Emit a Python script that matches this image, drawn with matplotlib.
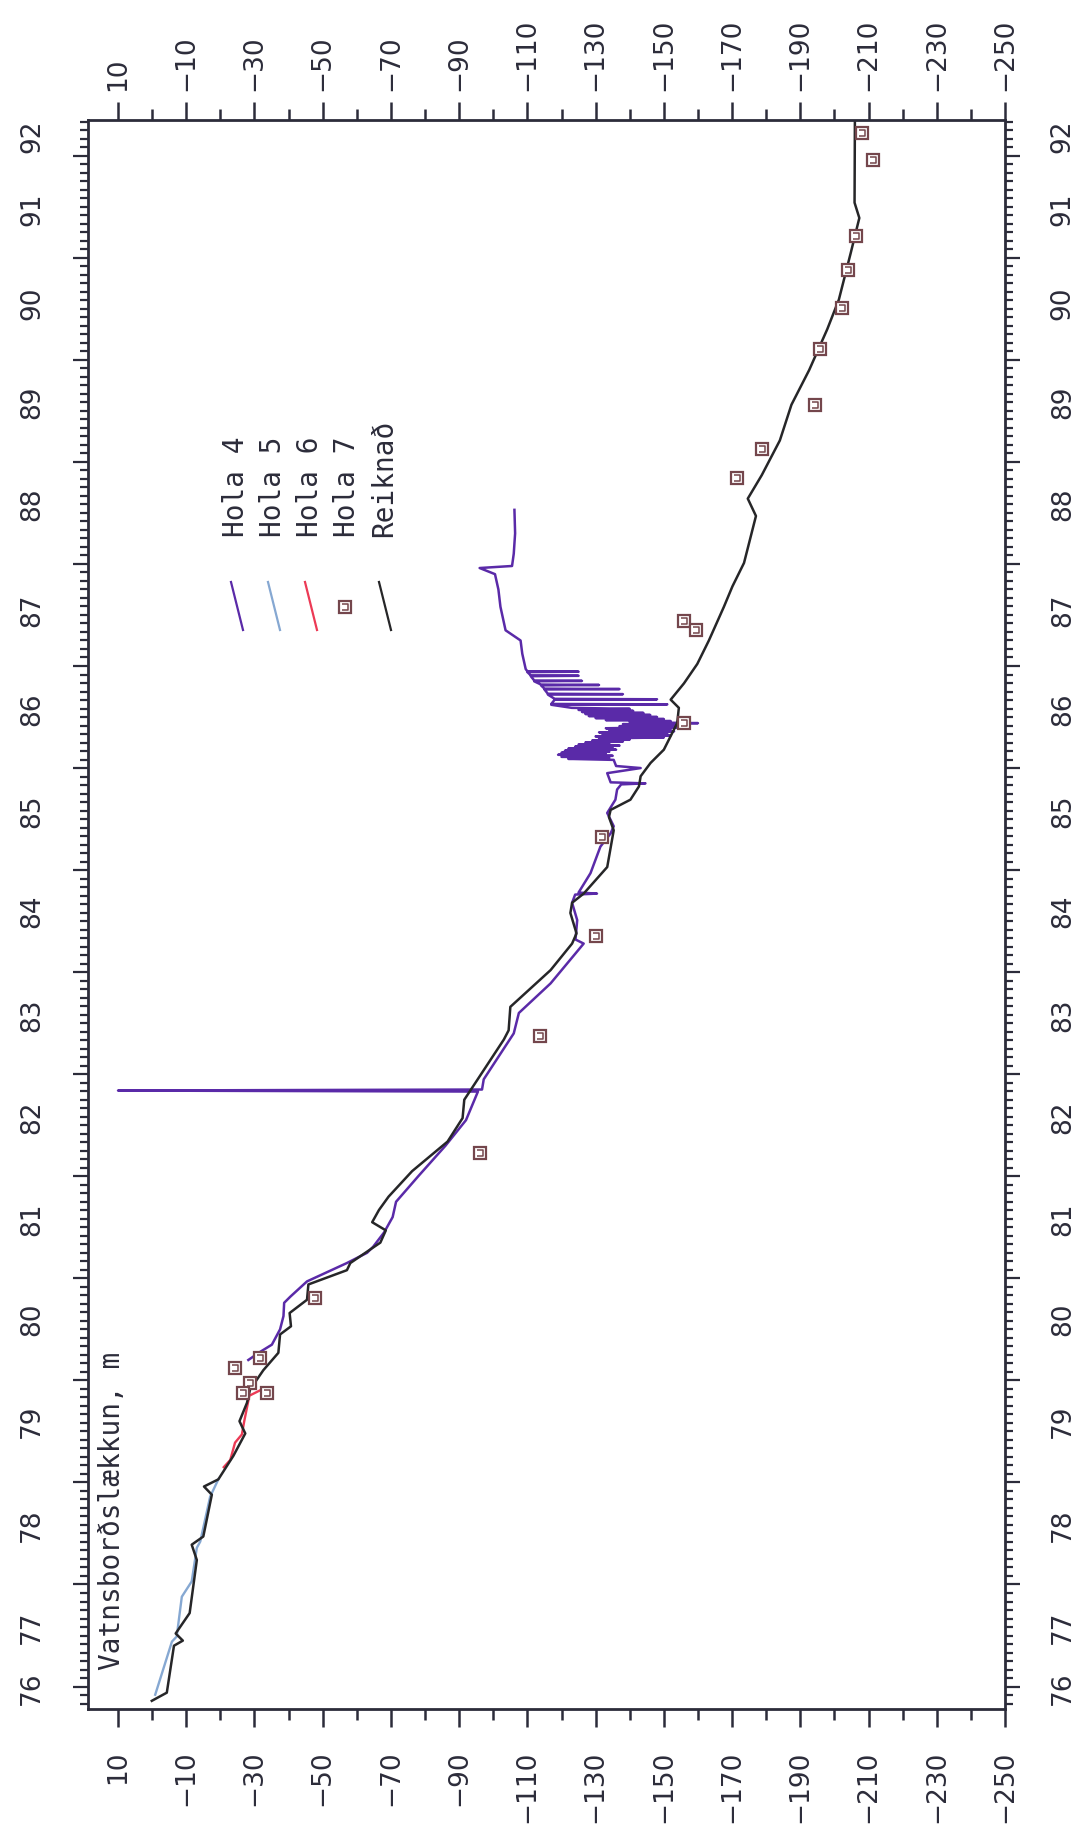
import matplotlib.pyplot as plt
from matplotlib.ticker import MultipleLocator, FixedLocator, NullFormatter
from matplotlib.transforms import blended_transform_factory
from matplotlib.lines import Line2D

# Reiknað (computed) water level, m
reikn_year = [1976.86, 1976.94, 1977.40, 1977.45, 1977.52, 1977.72, 1978.24, 1978.39, 1978.47,
              1978.88, 1978.96, 1979.03, 1979.26, 1979.48, 1979.60, 1979.78, 1979.91, 1980.10,
              1980.27, 1980.45, 1980.53, 1980.66, 1980.79, 1980.94, 1981.08, 1981.15, 1981.35,
              1981.47, 1981.55, 1981.67, 1981.80, 1982.05, 1982.34, 1982.57, 1982.75, 1983.34,
              1983.43, 1983.66, 1984.02, 1984.28, 1984.38, 1984.58, 1984.68, 1984.77, 1985.03,
              1985.39, 1985.52, 1985.59, 1985.69, 1985.82, 1985.92, 1986.05, 1986.18, 1986.44,
              1986.59, 1986.67, 1986.83, 1987.02, 1987.25, 1987.58, 1987.78, 1988.01, 1988.47,
              1988.64, 1988.87, 1989.21, 1989.56, 1989.90, 1990.30, 1990.59, 1991.05, 1991.39,
              1991.54, 1992.35]
reikn_level = [0.1, -4.3, -6.4, -9.0, -6.9, -11.0, -13.1, -11.6, -15.0,
               -17.5, -15.2, -19.4, -23.8, -27.3, -25.6, -27.8, -28.7, -32.6,
               -37.0, -37.5, -40.7, -40.3, -45.4, -45.8, -57.1, -58.1, -66.9,
               -68.5, -64.5, -66.5, -69.3, -76.2, -86.6, -91.0, -91.5, -103.1,
               -104.5, -105.0, -116.8, -123.1, -124.4, -122.6, -123.1, -126.5, -133.4,
               -135.3, -133.9, -134.4, -140.2, -142.7, -143.2, -146.1, -150.0, -153.9,
               -154.4, -152.0, -155.9, -159.8, -163.2, -167.6, -170.1, -173.5, -177.0,
               -174.6, -178.7, -184.0, -187.4, -192.6, -197.9, -201.3, -204.8, -207.3,
               -205.9, -206.0]

# Hola 4, in four stretches: trend up to 1986, dense fluctuations, single spikes, last part
h4_year_a = [1980.20, 1980.28, 1980.35, 1980.50, 1980.63, 1980.76, 1980.82, 1980.97, 1981.15,
             1981.25, 1981.31, 1981.45, 1981.60, 1981.75, 1982.00, 1982.30, 1982.55, 1982.83,
             1982.84, 1982.85, 1982.95, 1983.40, 1983.60, 1983.89, 1984.28, 1984.32, 1984.51,
             1984.68, 1984.76, 1984.77, 1984.78, 1984.97, 1985.23, 1985.36, 1985.43, 1985.56,
             1985.69, 1985.79, 1985.84, 1985.85, 1985.86, 1985.95, 1986.00, 1986.02]
h4_level_a = [-28.2, -31.7, -35.1, -37.5, -38.5, -38.7, -40.5, -45.4, -57.1,
              -63.0, -64.8, -68.0, -70.5, -71.5, -78.0, -86.0, -92.0, -95.5,
              10.0, -96.7, -97.2, -106.0, -107.5, -116.8, -126.5, -124.1, -124.6,
              -123.1, -124.0, -130.4, -125.0, -128.5, -131.4, -134.4, -135.3, -133.4,
              -135.8, -136.3, -137.5, -144.6, -134.4, -133.4, -143.2, -136.0]
h4_year_b = [1986.08, 1986.09, 1986.10, 1986.11, 1986.12, 1986.13, 1986.14, 1986.15, 1986.16,
             1986.17, 1986.18, 1986.19, 1986.20, 1986.21, 1986.22, 1986.23, 1986.24, 1986.25,
             1986.26, 1986.27, 1986.28, 1986.29, 1986.30, 1986.31, 1986.32, 1986.33, 1986.34,
             1986.35, 1986.36, 1986.37, 1986.38, 1986.39, 1986.40, 1986.41, 1986.42, 1986.43,
             1986.44, 1986.45, 1986.46, 1986.47, 1986.48, 1986.49, 1986.50, 1986.51, 1986.52,
             1986.53, 1986.54, 1986.55, 1986.56, 1986.57, 1986.58, 1986.59]
h4_level_b = [-135.3, -122.0, -134.0, -120.0, -135.0, -119.0, -133.0, -120.0, -134.0,
              -121.0, -136.0, -122.0, -135.0, -124.0, -137.0, -125.0, -134.0, -127.0,
              -138.0, -129.0, -140.0, -131.0, -150.0, -130.0, -152.0, -132.0, -151.0,
              -131.0, -153.0, -134.0, -152.0, -133.0, -154.0, -137.0, -155.0, -138.0,
              -160.0, -140.0, -152.0, -133.0, -150.0, -130.0, -148.0, -128.0, -146.0,
              -127.0, -144.0, -126.0, -141.0, -125.0, -140.0, -123.0]
h4_year_c = [1986.60, 1986.620, 1986.624, 1986.628, 1986.670, 1986.674, 1986.678, 1986.720,
             1986.724, 1986.728, 1986.770, 1986.774, 1986.778, 1986.810, 1986.814, 1986.818,
             1986.850, 1986.854, 1986.858, 1986.900, 1986.904, 1986.908, 1986.940, 1986.944,
             1986.948, 1986.97]
h4_level_c = [-121.0, -117.0, -151.0, -117.0, -118.0, -148.0, -118.0, -116.0,
              -138.0, -116.0, -115.0, -137.0, -115.0, -114.0, -131.0, -114.0,
              -112.0, -126.0, -112.0, -111.0, -125.0, -111.0, -110.0, -125.0,
              -110.0, -109.5]
h4_year_d = [1987.12, 1987.25, 1987.35, 1987.58, 1987.75, 1987.90, 1987.96, 1987.98, 1988.10,
             1988.30, 1988.53]
h4_level_d = [-108.5, -108.0, -103.6, -102.1, -101.5, -100.5, -96.0, -105.5, -106.0,
              -106.4, -106.2]
h4_year = h4_year_a + h4_year_b + h4_year_c + h4_year_d
h4_level = h4_level_a + h4_level_b + h4_level_c + h4_level_d

# Hola 5
h5_year = [1976.92, 1977.44, 1977.49, 1977.88, 1978.03, 1978.36, 1978.42, 1978.86, 1979.03]
h5_level = [-0.9, -5.8, -7.2, -8.7, -11.6, -13.1, -14.1, -17.0, -19.4]

# Hola 6
h6_year = [1979.15, 1979.22, 1979.39, 1979.47, 1979.60, 1979.85, 1979.90]
h6_level = [-21.0, -22.9, -24.3, -26.3, -27.0, -28.5, -31.5]

# Hola 7 (single measurements)
h7_year = [1980.12, 1980.22, 1979.97, 1979.88, 1979.88, 1980.81, 1982.23, 1983.37, 1984.35,
           1985.32, 1986.44, 1987.44, 1987.35, 1988.84, 1989.13, 1989.56, 1990.11, 1990.51,
           1990.88, 1991.21, 1992.22, 1991.96]
h7_level = [-24.3, -31.7, -28.7, -26.7, -33.6, -47.8, -96.0, -113.8, -130.0,
            -131.9, -155.9, -155.9, -159.3, -171.4, -178.7, -194.4, -195.8, -202.1,
            -204.1, -206.2, -208.2, -211.2]

year_labels = ['76', '77', '78', '79', '80', '81', '82', '83', '84', '85', '86', '87', '88',
               '89', '90', '91', '92']
year_label_pos = [1976.98, 1977.58, 1978.58, 1979.6, 1980.6, 1981.58, 1982.58, 1983.58,
                  1984.6, 1985.58, 1986.58, 1987.55, 1988.58, 1989.58, 1990.55, 1991.48,
                  1992.19]
level_ticks = list(range(10, -251, -20))
level_minor = list(range(0, -241, -20))
level_labels = [str(v).replace('-', '\u2212') for v in level_ticks]

C_H4 = '#5a2aa8'
C_H5 = '#86a8d2'
C_H6 = '#ec3a55'
C_H7 = '#74464c'
C_RE = '#262628'
C_AX = '#2c2c3a'

# small bracket drawn inside each Hola 7 square
bracket = [(-0.6, 0.5), (0.5, 0.5), (0.5, -0.5), (-0.6, -0.5)]

fig = plt.figure(figsize=(10.89, 18.37), dpi=100)
ax = fig.add_axes([88 / 1089, 1 - 1709 / 1837, 917 / 1089, 1589 / 1837])

ax.plot(h5_level, h5_year, color=C_H5, lw=1.7)
ax.plot(h6_level, h6_year, color=C_H6, lw=1.7)
ax.plot(h4_level, h4_year, color=C_H4, lw=1.8)
ax.plot(reikn_level, reikn_year, color=C_RE, lw=1.8)
ax.plot(h7_level, h7_year, ls='none', marker='s', ms=9, mfc='white', mec=C_H7, mew=1.6)
ax.plot(h7_level, h7_year, ls='none', marker=bracket, ms=4.5, mfc='none', mec=C_H7, mew=1.1)

ax.set_xlim(18.8, -250)
ax.set_ylim(1976.78, 1992.35)

for s in ax.spines.values():
    s.set_linewidth(2)
    s.set_color(C_AX)

# value axis (horizontal, bottom + top)
ax.xaxis.set_major_locator(FixedLocator(level_ticks))
ax.xaxis.set_minor_locator(FixedLocator(level_minor))
ax.set_xticklabels(level_labels)
ax.tick_params(axis='x', which='major', direction='out', length=13, width=1.8,
               color=C_AX, labelsize=19, labelcolor=C_AX, labelrotation=90, pad=17,
               top=True)
ax.tick_params(axis='x', which='minor', direction='out', length=8, width=1.8,
               color=C_AX, top=True)

sec = ax.secondary_xaxis('top')
sec.xaxis.set_major_locator(FixedLocator(level_ticks))
sec.set_xticklabels(level_labels)
sec.tick_params(axis='x', which='major', length=0, labelsize=19, labelcolor=C_AX,
                labelrotation=90, pad=21)
sec.spines['top'].set_visible(False)

# year axis (vertical, left + right)
ax.yaxis.set_major_locator(MultipleLocator(1))
ax.yaxis.set_minor_locator(MultipleLocator(1 / 12))
ax.yaxis.set_major_formatter(NullFormatter())
ax.tick_params(axis='y', which='major', direction='out', length=11, width=1.6,
               color=C_AX, left=True, right=True)
ax.tick_params(axis='y', which='minor', direction='out', length=6, width=1.6,
               color=C_AX, left=True, right=True)

tr = blended_transform_factory(ax.transAxes, ax.transData)
for lab, pos in zip(year_labels, year_label_pos):
    ax.text(-0.061, pos, lab, transform=tr, rotation=90, ha='center', va='center',
            fontsize=19, color=C_AX)
    ax.text(1.063, pos, lab, transform=tr, rotation=90, ha='center', va='center',
            fontsize=19, color=C_AX)

# title
ax.text(0.0262, 0.0245, 'Vatnsborðslækkun, m', transform=ax.transAxes, rotation=90,
        ha='center', va='bottom', fontsize=20, family='DejaVu Sans Mono', color=C_AX)

# legend (rotated)
leg_names = ['Hola 4', 'Hola 5', 'Hola 6', 'Hola 7', 'Reiknað']
leg_colors = [C_H4, C_H5, C_H6, C_H7, C_RE]
leg_x = [236, 273, 310, 347, 384]
for name, col, px in zip(leg_names, leg_colors, leg_x):
    xa = (px - 88) / 917
    ax.text(xa, (1709 - 537) / 1589, name, transform=ax.transAxes, rotation=90,
            ha='center', va='bottom', fontsize=20, family='DejaVu Sans Mono', color=C_AX)
    if name == 'Hola 7':
        for mk, size, lw in (('s', 9, 1.6), (bracket, 4.5, 1.1)):
            ax.add_line(Line2D([(px - 2 - 88) / 917], [(1709 - 607) / 1589],
                               transform=ax.transAxes, ls='none', marker=mk, ms=size,
                               mfc='white' if mk == 's' else 'none', mec=C_H7, mew=lw))
    else:
        ax.add_line(Line2D([(px - 5 - 88) / 917, (px + 7 - 88) / 917],
                           [(1709 - 582) / 1589, (1709 - 630) / 1589],
                           transform=ax.transAxes, color=col, lw=1.6))

fig.savefig('out.png', dpi=100)
